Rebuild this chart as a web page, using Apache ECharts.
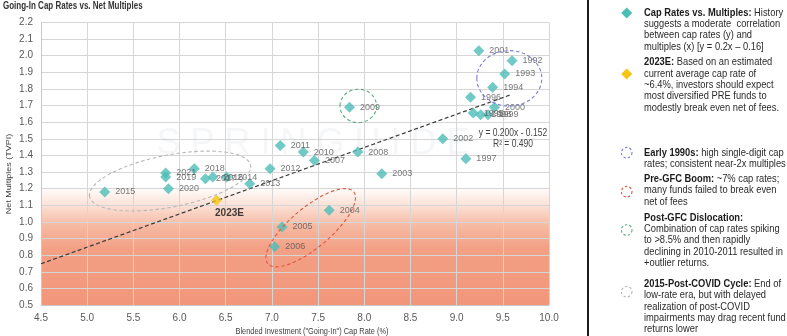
<!DOCTYPE html>
<html><head><meta charset="utf-8">
<script src="https://cdn.jsdelivr.net/npm/echarts@6/dist/echarts.min.js"></script>
<style>html,body{margin:0;padding:0;background:#fff}#c{width:787px;height:336px}</style>
</head><body><div id="c"></div>
<script>
// ---------- data ----------
const years     = ['1992','1993','1994','1995','1996','1997','1998','1999','2000','2001','2002','2003','2004','2005','2006','2007','2008','2009','2010','2011','2012','2013','2014','2015','2016','2017','2018','2019','2020','2021'];
const capRates  = [9.60, 9.52, 9.39, 9.18, 9.15, 9.10, 9.26, 9.34, 9.41, 9.24, 8.85, 8.19, 7.62, 7.11, 7.03, 7.46, 7.93, 7.84, 7.34, 7.09, 6.98, 6.76, 6.51, 5.19, 6.36, 6.28, 6.16, 5.85, 5.88, 5.85];
const multiples = [1.97, 1.89, 1.81, 1.655,1.75, 1.38, 1.645,1.645,1.69, 2.03, 1.50, 1.29, 1.07, 0.97, 0.85, 1.37, 1.42, 1.69, 1.42, 1.46, 1.32, 1.23, 1.27, 1.18, 1.27, 1.26, 1.32, 1.27, 1.20, 1.295];
const estLabel = '2023E';
const estCapRate = 6.40;
const estMultiple = 1.13;
const trendX = [4.5, 9.58];
const trendY = [0.748, 1.764];
const trendText = ['y = 0.200x - 0.152', 'R² = 0.490'];
const xTicks = [4.5, 10.0, 0.5];   // min, max, step
const yTicks = [0.5, 2.2, 0.1];
const titleText = 'Going-In Cap Rates vs. Net Multiples';
const xName = 'Blended Investment ("Going-In") Cap Rate (%)';
const yName = 'Net Multiples (TVPI)';

// ---------- styles ----------
const NARROW = '"Liberation Sans Narrow","Arial Narrow","Liberation Sans",Arial,sans-serif';
const SANS = '"Liberation Sans",Arial,sans-serif';
const TEAL = '#4dbdb6';
const GOLD = '#f6c511';

const chart = echarts.init(document.getElementById('c'), null, {renderer: 'canvas'});

const pts = years.map((y, i) => ({name: y, value: [capRates[i], multiples[i]]}));

chart.setOption({
  animation: false,
  backgroundColor: '#fff',
  grid: {left: 41, right: 238, top: 22.5, bottom: 31, show: true, borderWidth: 0,
    backgroundColor: {type: 'linear', x: 0, y: 0, x2: 0, y2: 1, colorStops: [
      {offset: 0, color: '#ffffff'}, {offset: 0.58, color: '#ffffff'},
      {offset: 0.65, color: '#fbe0d5'}, {offset: 0.72, color: '#f6b9a2'},
      {offset: 0.8, color: '#f3a085'}, {offset: 1, color: '#f2967a'}]}},
  xAxis: {type: 'value', min: xTicks[0], max: xTicks[1], interval: xTicks[2],
    axisLine: {show: true, lineStyle: {color: '#c8c8c8'}}, axisTick: {show: false},
    splitLine: {show: true, lineStyle: {color: '#d6d6d6', width: 1}},
    axisLabel: {formatter: v => v.toFixed(1), fontFamily: NARROW, fontSize: 10, color: '#595959', margin: 8}},
  yAxis: {type: 'value', min: yTicks[0], max: yTicks[1], interval: yTicks[2],
    axisLine: {show: true, lineStyle: {color: '#c8c8c8'}}, axisTick: {show: false},
    splitLine: {show: true, lineStyle: {color: '#d6d6d6', width: 1}},
    axisLabel: {formatter: v => v.toFixed(1), fontFamily: NARROW, fontSize: 10, color: '#595959', margin: 8}},
  series: [
    {type: 'line', data: trendX.map((x, i) => [x, trendY[i]]), symbol: 'none', z: 3,
      lineStyle: {color: '#3a3a3a', width: 1.2, type: [4, 2.5]}, silent: true},
    {type: 'scatter', data: pts, symbol: 'diamond', symbolSize: 11, z: 4,
      itemStyle: {color: TEAL},
      label: {show: true, position: 'right', distance: 5, formatter: p => p.name,
        fontFamily: NARROW, fontSize: 9, color: '#555'}},
    {type: 'scatter', data: [{name: estLabel, value: [estCapRate, estMultiple]}], symbol: 'diamond', symbolSize: 11, z: 5,
      itemStyle: {color: GOLD},
      label: {show: true, position: 'bottom', distance: 2, offset: [13, 0], formatter: p => p.name,
        fontFamily: NARROW, fontSize: 10, fontWeight: 'bold', color: '#111'}}
  ]
});

// ---------- annotations ----------
const ellipses = [
  {c: [9.57, 1.864], rx: 32.5, ry: 27.7, rot: 0,  color: '#7c7fd8'},
  {c: [7.42, 0.965], rx: 56,   ry: 20,   rot: 40, color: '#dd5a40'},
  {c: [7.935, 1.698], rx: 18.3, ry: 16.7, rot: 0, color: '#5cae82'},
  {c: [5.897, 1.246], rx: 82,  ry: 26,   rot: 11, color: '#b8b8b8'}
];
const g = [];
ellipses.forEach(e => {
  const p = chart.convertToPixel({gridIndex: 0}, e.c);
  g.push({type: 'ellipse', x: p[0], y: p[1], rotation: e.rot * Math.PI / 180, z: 10, silent: true,
    shape: {cx: 0, cy: 0, rx: e.rx, ry: e.ry},
    style: {fill: null, stroke: e.color, lineWidth: 1.1, lineDash: [3.5, 2.5]}});
});
const eq = chart.convertToPixel({gridIndex: 0}, [9.61, 1.535]);
g.push({type: 'text', x: eq[0], y: eq[1] - 5, z: 10, silent: true, scaleX: 0.85,
  style: {text: trendText.join('\n'), align: 'center', verticalAlign: 'top', lineHeight: 10.5,
    fontFamily: NARROW, fontSize: 10, fill: '#444'}});
// watermark
const wm = chart.convertToPixel({gridIndex: 0}, [7.45, 1.47]);
g.push({type: 'text', x: wm[0], y: wm[1], z: 1, silent: true,
  style: {text: 'S P R I N G U I D E', align: 'center', verticalAlign: 'middle',
    fontFamily: NARROW, fontSize: 36, fill: 'rgba(170,185,195,0.12)'}});
// title
g.push({type: 'text', x: 3, y: 1, silent: true, scaleX: 0.8,
  style: {text: titleText, fontFamily: NARROW, fontSize: 10, fontWeight: 'bold', fill: '#333'}});
// axis names
g.push({type: 'text', x: 312, y: 331.5, silent: true, scaleX: 0.78,
  style: {text: xName, align: 'center', verticalAlign: 'middle', fontFamily: NARROW, fontSize: 9.5, fill: '#404040'}});
g.push({type: 'text', x: 9, y: 174, rotation: Math.PI / 2, silent: true, scaleY: 0.85,
  style: {text: yName, align: 'center', verticalAlign: 'middle', fontFamily: NARROW, fontSize: 9, fill: '#404040'}});
// divider
g.push({type: 'line', shape: {x1: 588, y1: 0, x2: 588, y2: 336}, style: {stroke: '#1a1a1a', lineWidth: 2}});

// side panel
const LH = 11.4;
const paras = [
  {y: 7,     text: '{b|Cap Rates vs. Multiples:} History\nsuggests a moderate  correlation\nbetween cap rates (y) and\nmultiples (x) [y = 0.2x – 0.16]'},
  {y: 56.6,  text: '{b|2023E:} Based on an estimated\ncurrent average cap rate of\n~6.4%, investors should expect\nmost diversified PRE funds to\nmodestly break even net of fees.'},
  {y: 147,   text: '{b|Early 1990s:} high single-digit cap\nrates; consistent near-2x multiples'},
  {y: 173.3, text: '{b|Pre-GFC Boom:} ~7% cap rates;\nmany funds failed to break even\nnet of fees'},
  {y: 212,   text: '{b|Post-GFC Dislocation:}\nCombination of cap rates spiking\nto >8.5% and then rapidly\ndeclining in 2010-2011 resulted in\n+outlier returns.'},
  {y: 278.3, text: '{b|2015-Post-COVID Cycle:} End of\nlow-rate era, but with delayed\nrealization of post-COVID\nimpairments may drag recent fund\nreturns lower'}
];
paras.forEach(pp => g.push({type: 'text', x: 644, y: pp.y, silent: true, scaleX: 0.89,
  style: {text: pp.text, fontFamily: SANS, fontSize: 10.5, lineHeight: LH, fill: '#2a2a2a',
    rich: {b: {fontFamily: SANS, fontSize: 10.5, fontWeight: 'bold', lineHeight: LH, fill: '#1a1a1a'}}}}));
const dia = (cx, cy, col) => ({type: 'polygon', silent: true,
  shape: {points: [[cx, cy - 5.5], [cx + 5.5, cy], [cx, cy + 5.5], [cx - 5.5, cy]]}, style: {fill: col}});
g.push(dia(626.7, 13, TEAL));
g.push(dia(626.7, 74, GOLD));
[[152.7, '#7c7fd8'], [191.7, '#dd5a40'], [230, '#5cae82'], [291.7, '#b8b8b8']].forEach(c =>
  g.push({type: 'circle', silent: true, shape: {cx: 626.7, cy: c[0], r: 5.3},
    style: {fill: null, stroke: c[1], lineWidth: 1.1, lineDash: [2.5, 2]}}));

chart.setOption({graphic: g});
</script>
</body></html>
